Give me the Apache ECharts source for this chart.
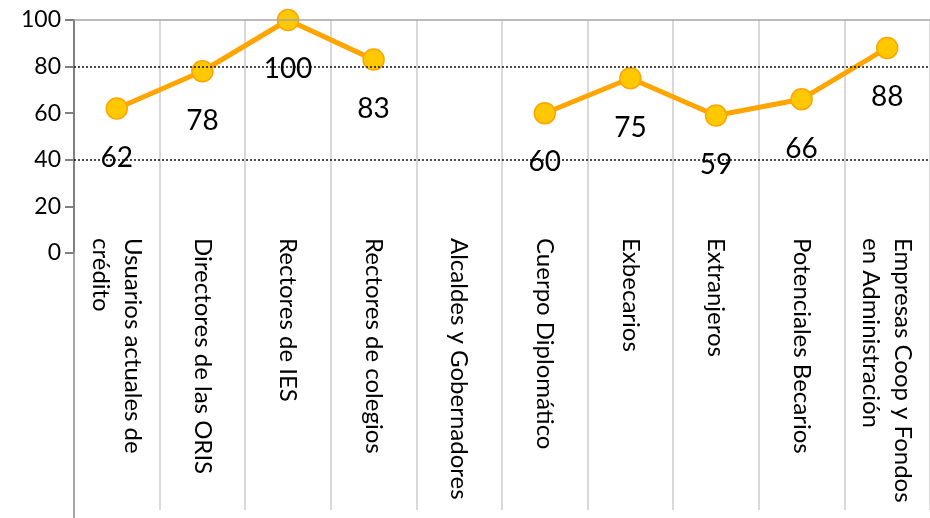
<!DOCTYPE html>
<html>
<head>
<meta charset="utf-8">
<script src="https://cdn.jsdelivr.net/npm/echarts@6/dist/echarts.min.js"></script>
<style>
  html, body { margin: 0; padding: 0; background: #fff; }
  #chart { width: 930px; height: 518px; }
</style>
</head>
<body>
<div id="chart"></div>
<script>
const categories = [
  'Usuarios actuales de\ncrédito', 'Directores de las ORIS', 'Rectores de IES',
  'Rectores de colegios', 'Alcaldes y Gobernadores', 'Cuerpo Diplomático',
  'Exbecarios', 'Extranjeros', 'Potenciales Becarios',
  'Empresas Coop y Fondos\nen Administración'
];
const values = [62, 78, 100, 83, null, 60, 75, 59, 66, 88];
const dottedLines = [40, 80];
const topLine = 100;

const font = 'Lato, "Noto Sans", sans-serif';
const chart = echarts.init(document.getElementById('chart'));

// grid 0: plot area, grid 1: separators under the labels, grid 2: axis line under the labels
chart.setOption({
  animation: false,
  grid: [
    { left: 74, top: 20, width: 874, height: 233 },
    { left: 74, top: 253, width: 874, bottom: 8 },
    { left: 74, top: 253, width: 874, bottom: 0 }
  ],
  xAxis: [
    {
      type: 'category',
      gridIndex: 0,
      data: categories,
      axisLine: { show: false },
      axisTick: { show: false },
      splitLine: { show: true, interval: 0, lineStyle: { color: '#d9d9d9', width: 2 } },
      axisLabel: {
        interval: 0,
        rotate: -90,
        margin: -15,
        padding: [14, 0, 0, 0],
        color: '#000',
        fontSize: 24,
        lineHeight: 32,
        fontFamily: font
      }
    },
    {
      type: 'category',
      gridIndex: 1,
      data: categories,
      axisLine: { show: false },
      axisTick: { show: false },
      axisLabel: { show: false },
      splitLine: { show: true, interval: 0, lineStyle: { color: '#d9d9d9', width: 2 } }
    },
    {
      type: 'category',
      gridIndex: 2,
      data: categories,
      show: false
    }
  ],
  yAxis: [
    {
      type: 'value',
      gridIndex: 0,
      min: 0,
      max: 100,
      interval: 20,
      axisLine: { show: true, lineStyle: { color: '#7f7f7f', width: 2 } },
      axisTick: { show: true, length: 9, lineStyle: { color: '#7f7f7f', width: 2 } },
      splitLine: { show: false },
      axisLabel: { color: '#000', fontSize: 23, margin: 13, fontFamily: font }
    },
    {
      type: 'value',
      gridIndex: 1,
      min: 0,
      max: 1,
      show: false
    },
    {
      type: 'value',
      gridIndex: 2,
      min: 0,
      max: 1,
      axisLine: { show: true, lineStyle: { color: '#a6a6a6', width: 2 } },
      axisTick: { show: false },
      axisLabel: { show: false },
      splitLine: { show: false }
    }
  ],
  series: [
    {
      type: 'line',
      xAxisIndex: 0,
      yAxisIndex: 0,
      data: values,
      symbol: 'circle',
      symbolSize: 21,
      lineStyle: { color: '#ffa500', width: 5 },
      itemStyle: { color: '#ffc800', borderColor: '#ffa500', borderWidth: 1.5 },
      label: {
        show: true,
        position: 'bottom',
        distance: 24,
        color: '#000',
        fontSize: 28,
        fontFamily: font
      },
      markLine: {
        silent: true,
        symbol: 'none',
        label: { show: false },
        data: dottedLines.map(v => ({ yAxis: v, lineStyle: { color: '#111', width: 1.5, type: [2, 2] } }))
          .concat([{ yAxis: topLine, lineStyle: { color: '#a6a6a6', width: 1.5, type: 'solid' } }])
      }
    }
  ]
});
</script>
</body>
</html>
